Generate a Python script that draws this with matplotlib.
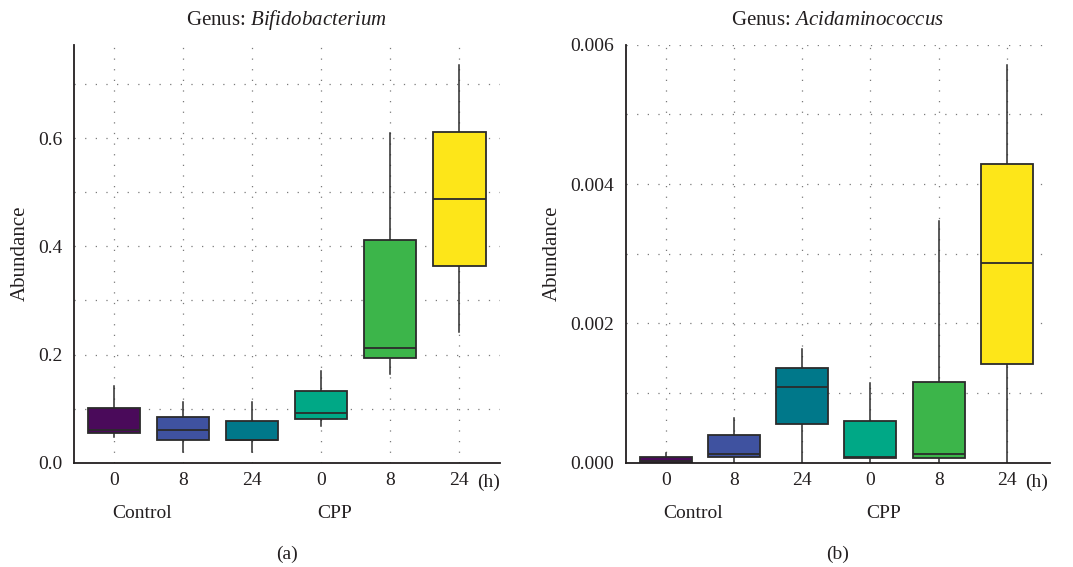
import matplotlib
matplotlib.use("Agg")
import matplotlib.pyplot as plt

plt.rcParams['font.family'] = ['Liberation Serif', 'DejaVu Serif']
plt.rcParams['mathtext.fontset'] = 'custom'
plt.rcParams['mathtext.rm'] = 'Liberation Serif'
plt.rcParams['mathtext.it'] = 'Liberation Serif:italic'

# x categories (time points) and groups
times = ['0', '8', '24', '0', '8', '24']
groups = ['Control', 'CPP']
colors = ['#4a0a5a', '#3f52a0', '#00788a', '#00a886', '#3cb54a', '#fde619']

# panel (a) Bifidobacterium
a_whislo = [0.048, 0.020, 0.020, 0.067, 0.164, 0.241]
a_q1 = [0.054, 0.042, 0.042, 0.080, 0.193, 0.363]
a_med = [0.061, 0.061, 0.042, 0.092, 0.212, 0.488]
a_q3 = [0.102, 0.085, 0.077, 0.133, 0.411, 0.611]
a_whishi = [0.142, 0.113, 0.113, 0.170, 0.610, 0.735]

# panel (b) Acidaminococcus
b_whislo = [0.0, 0.0, 0.0, 0.0, 0.0, 0.0]
b_q1 = [0.0, 0.000078, 0.00055, 0.000067, 0.00007, 0.00142]
b_med = [0.00002, 0.00013, 0.00109, 0.000078, 0.00012, 0.00286]
b_q3 = [0.000078, 0.000398, 0.001355, 0.000594, 0.001163, 0.004284]
b_whishi = [0.000135, 0.000646, 0.00163, 0.00114, 0.003466, 0.00571]


def stats(lo, q1, med, q3, hi):
    return [dict(whislo=lo[i], q1=q1[i], med=med[i], q3=q3[i], whishi=hi[i], fliers=[])
            for i in range(len(lo))]


fig = plt.figure(figsize=(10.73, 5.67), dpi=100)
ax1 = fig.add_axes([0.069, 0.184, 0.397, 0.737])
ax2 = fig.add_axes([0.583, 0.184, 0.3955, 0.737])

panels = [
    (ax1, stats(a_whislo, a_q1, a_med, a_q3, a_whishi), 'Bifidobacterium', '(a)',
     (0, 0.773), [0.0, 0.2, 0.4, 0.6], [0.1, 0.3, 0.5, 0.7], '{:.1f}', (-0.58, 5.59)),
    (ax2, stats(b_whislo, b_q1, b_med, b_q3, b_whishi), 'Acidaminococcus', '(b)',
     (0, 0.006), [0.0, 0.002, 0.004, 0.006], [0.001, 0.003, 0.005], '{:.3f}', (-0.587, 5.63)),
]

pos = list(range(len(times)))
for ax, st, genus, tag, ylim, yt, ymin, fmt, xlim in panels:
    # grid first so boxes sit above it
    for y in yt + ymin:
        ax.axhline(y, color='#7a7a7a', lw=0.9, ls=(0, (1, 7.5)), zorder=0)
    for x in pos:
        ax.axvline(x, color='#7a7a7a', lw=0.9, ls=(0, (1, 7.5)), zorder=0)

    bp = ax.bxp(st, positions=pos, widths=0.76, patch_artist=True, showcaps=False,
                showfliers=False,
                boxprops=dict(edgecolor='#2b2b2b', linewidth=1.3),
                medianprops=dict(color='#2b2b2b', linewidth=1.3),
                whiskerprops=dict(color='#2b2b2b', linewidth=1.1))
    for patch, c in zip(bp['boxes'], colors):
        patch.set_facecolor(c)
        patch.set_zorder(3)
    for m in bp['medians']:
        m.set_zorder(4)
    for w in bp['whiskers']:
        w.set_zorder(2)

    ax.set_xlim(*xlim)
    ax.set_ylim(*ylim)
    ax.set_yticks(yt)
    ax.set_yticklabels([fmt.format(v) for v in yt])
    ax.set_xticks(pos)
    ax.set_xticklabels(times)
    ax.tick_params(length=0, labelsize=14, colors='#231f20', pad=8)
    ax.tick_params(axis='x', pad=7)
    for s in ['top', 'right']:
        ax.spines[s].set_visible(False)
    for s in ['left', 'bottom']:
        ax.spines[s].set_color('#231f20')
        ax.spines[s].set_linewidth(1.3)
    ax.spines['bottom'].set_zorder(5)
    ax.set_ylabel('Abundance', fontsize=15, color='#231f20', labelpad=6)
    ax.set_title('Genus: $\\it{' + genus + '}$', fontsize=15, color='#231f20', pad=14)

    ax.text(5.26, -0.046, '(h)', transform=ax.get_xaxis_transform(), ha='left', va='center',
            fontsize=14, color='#231f20')
    ax.text(0.4, -0.122, groups[0], transform=ax.get_xaxis_transform(), ha='center', va='center',
            fontsize=14, color='#231f20')
    ax.text(3.2, -0.122, groups[1], transform=ax.get_xaxis_transform(), ha='center', va='center',
            fontsize=14, color='#231f20')
    ax.text(0.5, -0.22, tag, transform=ax.transAxes, ha='center', va='center',
            fontsize=14, color='#231f20')

fig.savefig('out.png', dpi=100)
